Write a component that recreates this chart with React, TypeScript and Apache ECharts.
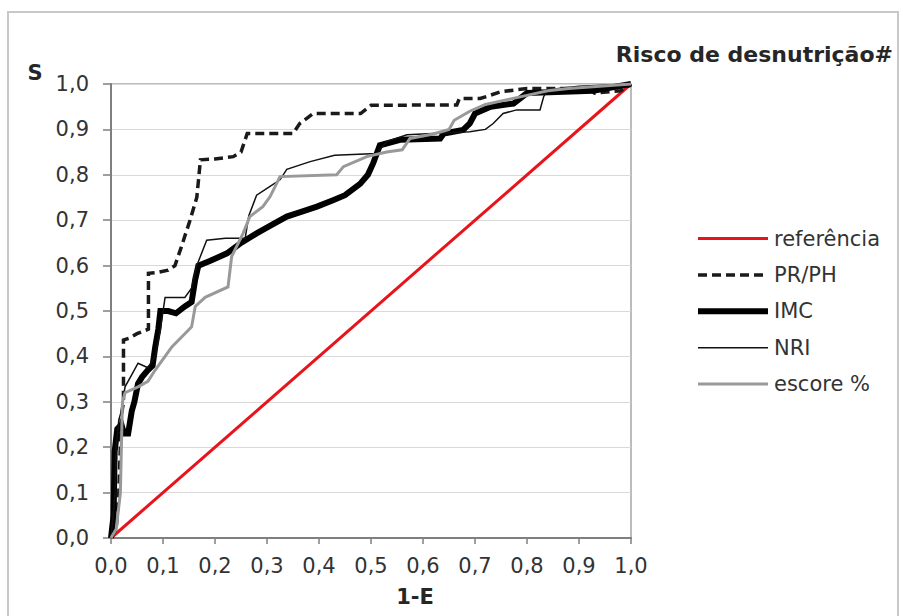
import React, { useEffect, useRef } from "react";
import * as echarts from "echarts";

const seriesNames = ["referência", "PR/PH", "IMC", "NRI", "escore %"];

const referencia: [number, number][] = [
  [0, 0],
  [1, 1],
];

const prph: [number, number][] = [
  [0, 0], [0.01, 0.02], [0.015, 0.1], [0.02, 0.27], [0.024, 0.3], [0.024, 0.436],
  [0.035, 0.44], [0.05, 0.45], [0.072, 0.46], [0.072, 0.583], [0.09, 0.585],
  [0.11, 0.59], [0.123, 0.6], [0.135, 0.64], [0.142, 0.665], [0.152, 0.7],
  [0.165, 0.75], [0.172, 0.833], [0.2, 0.835], [0.235, 0.84], [0.25, 0.85],
  [0.262, 0.891], [0.35, 0.891], [0.363, 0.913], [0.389, 0.935], [0.48, 0.935],
  [0.5, 0.953], [0.665, 0.954], [0.67, 0.968], [0.71, 0.968], [0.75, 0.983],
  [0.8, 0.99], [0.92, 0.99], [0.93, 0.98], [0.98, 0.985], [1, 1],
];

const imc: [number, number][] = [
  [0, 0], [0.005, 0.05], [0.007, 0.19], [0.012, 0.24], [0.02, 0.25], [0.025, 0.23],
  [0.033, 0.23], [0.04, 0.28], [0.045, 0.3], [0.052, 0.34], [0.06, 0.355],
  [0.071, 0.37], [0.08, 0.38], [0.085, 0.42], [0.091, 0.46], [0.095, 0.5],
  [0.11, 0.5], [0.125, 0.495], [0.142, 0.51], [0.155, 0.52], [0.162, 0.57],
  [0.168, 0.6], [0.19, 0.61], [0.223, 0.627], [0.25, 0.65], [0.28, 0.671],
  [0.31, 0.69], [0.338, 0.708], [0.37, 0.72], [0.396, 0.73], [0.427, 0.744],
  [0.45, 0.755], [0.479, 0.78], [0.494, 0.8], [0.504, 0.825], [0.517, 0.865],
  [0.556, 0.877], [0.633, 0.88], [0.64, 0.891], [0.677, 0.899], [0.69, 0.913],
  [0.7, 0.935], [0.73, 0.95], [0.774, 0.957], [0.8, 0.98], [0.927, 0.985], [1, 1],
];

const nri: [number, number][] = [
  [0, 0], [0.008, 0.1], [0.01, 0.2], [0.015, 0.26], [0.02, 0.28], [0.027, 0.333],
  [0.04, 0.36], [0.052, 0.385], [0.071, 0.375], [0.085, 0.4], [0.095, 0.46],
  [0.104, 0.53], [0.142, 0.53], [0.155, 0.55], [0.165, 0.6], [0.184, 0.656],
  [0.22, 0.66], [0.258, 0.66], [0.265, 0.71], [0.28, 0.755], [0.3, 0.77],
  [0.325, 0.789], [0.338, 0.812], [0.383, 0.829], [0.430, 0.843], [0.511, 0.847],
  [0.53, 0.873], [0.569, 0.888], [0.69, 0.895], [0.72, 0.9], [0.735, 0.913],
  [0.754, 0.935], [0.78, 0.943], [0.825, 0.943], [0.832, 0.972], [0.838, 0.983],
  [0.86, 0.99], [0.9, 0.995], [1, 1],
];

const escore: [number, number][] = [
  [0, 0], [0.01, 0.02], [0.018, 0.099], [0.02, 0.2], [0.022, 0.3], [0.027, 0.32],
  [0.052, 0.333], [0.071, 0.345], [0.085, 0.37], [0.104, 0.4], [0.117, 0.421],
  [0.142, 0.45], [0.155, 0.465], [0.162, 0.51], [0.181, 0.53], [0.225, 0.553],
  [0.232, 0.62], [0.254, 0.671], [0.267, 0.708], [0.292, 0.73], [0.306, 0.752],
  [0.325, 0.796], [0.434, 0.8], [0.447, 0.818], [0.492, 0.84], [0.53, 0.85],
  [0.56, 0.855], [0.575, 0.88], [0.62, 0.89], [0.65, 0.9], [0.66, 0.92],
  [0.69, 0.94], [0.72, 0.955], [0.76, 0.965], [0.8, 0.975], [0.84, 0.985],
  [0.88, 0.99], [1, 1],
];

const titleText = "Risco de desnutrição#";
const yAxisTitle = "S";
const xAxisTitle = "1-E";

const FONT = "DejaVu Sans";
const fmt = (v: number) => v.toFixed(1).replace(".", ",");

type Style = { color: string; width: number; type: any };
const styles: Style[] = [
  { color: "#e8141c", width: 3, type: "solid" },
  { color: "#1a1a1a", width: 3.5, type: [9, 5] },
  { color: "#000000", width: 6, type: "solid" },
  { color: "#111111", width: 1.5, type: "solid" },
  { color: "#999999", width: 3, type: "solid" },
];
const seriesData = [referencia, prph, imc, nri, escore];

export default function App() {
  const ref = useRef<HTMLDivElement>(null);

  useEffect(() => {
    document.body.style.margin = "0";
    if (!ref.current) return;
    const chart = echarts.init(ref.current, null, { renderer: "svg" });

    const legendTop = 238.5;
    const legendStep = 36.4;
    const legendGraphics: any[] = [];
    seriesNames.forEach((name, i) => {
      const s = styles[i];
      const y = legendTop + i * legendStep;
      legendGraphics.push({
        type: "line",
        shape: { x1: 698, y1: y, x2: 768, y2: y },
        style: {
          stroke: s.color,
          lineWidth: s.width,
          lineDash: Array.isArray(s.type) ? s.type : null,
          lineCap: "butt",
        },
      });
      legendGraphics.push({
        type: "text",
        x: 774,
        y,
        style: {
          text: name,
          fontFamily: FONT,
          fontSize: 21,
          fill: "#333",
          align: "left",
          verticalAlign: "middle",
        },
      });
    });

    chart.setOption({
      animation: false,
      backgroundColor: "#ffffff",
      textStyle: { fontFamily: FONT },
      title: {
        text: titleText,
        right: 5,
        top: 38,
        textStyle: { fontFamily: FONT, fontWeight: "bold", fontSize: 22, color: "#262626" },
      },
      grid: {
        left: 111,
        top: 84,
        width: 520,
        height: 454,
        show: true,
        borderColor: "#a6a6a6",
        borderWidth: 1.5,
        backgroundColor: "transparent",
      },
      xAxis: {
        type: "value",
        min: 0,
        max: 1,
        interval: 0.1,
        axisLine: { show: true, lineStyle: { color: "#7f7f7f", width: 2 } },
        axisTick: { show: true, inside: false, length: 6, lineStyle: { color: "#7f7f7f", width: 1.5 } },
        axisLabel: { formatter: fmt, fontFamily: FONT, fontSize: 21, color: "#333", margin: 17 },
        splitLine: { show: false },
      },
      yAxis: {
        type: "value",
        min: 0,
        max: 1,
        interval: 0.1,
        axisLine: { show: true, lineStyle: { color: "#7f7f7f", width: 2 } },
        axisTick: { show: true, inside: false, length: 8, lineStyle: { color: "#7f7f7f", width: 1.5 } },
        axisLabel: { formatter: fmt, fontFamily: FONT, fontSize: 21, color: "#333", margin: 22 },
        splitLine: { show: true, lineStyle: { color: "#d9d9d9", width: 1 } },
      },
      graphic: [
        {
          type: "rect",
          z: -10,
          shape: { x: 8, y: 12, width: 890, height: 640 },
          style: { fill: "none", stroke: "#c8c8c8", lineWidth: 2 },
        },
        {
          type: "text",
          x: 35,
          y: 73,
          style: {
            text: yAxisTitle,
            fontFamily: FONT,
            fontWeight: "bold",
            fontSize: 21,
            fill: "#262626",
            align: "center",
            verticalAlign: "middle",
          },
        },
        {
          type: "text",
          x: 415,
          y: 597,
          style: {
            text: xAxisTitle,
            fontFamily: FONT,
            fontWeight: "bold",
            fontSize: 21,
            fill: "#262626",
            align: "center",
            verticalAlign: "middle",
          },
        },
        ...legendGraphics,
      ],
      series: seriesNames.map((name, i) => ({
        name,
        type: "line",
        data: seriesData[i],
        symbol: "none",
        showSymbol: false,
        z: 2 + i,
        lineStyle: {
          color: styles[i].color,
          width: styles[i].width,
          type: styles[i].type,
          cap: "butt",
          join: "miter",
        },
        itemStyle: { color: styles[i].color },
        emphasis: { disabled: true },
      })),
    });

    return () => chart.dispose();
  }, []);

  return <div ref={ref} style={{ width: 903, height: 616 }} />;
}
